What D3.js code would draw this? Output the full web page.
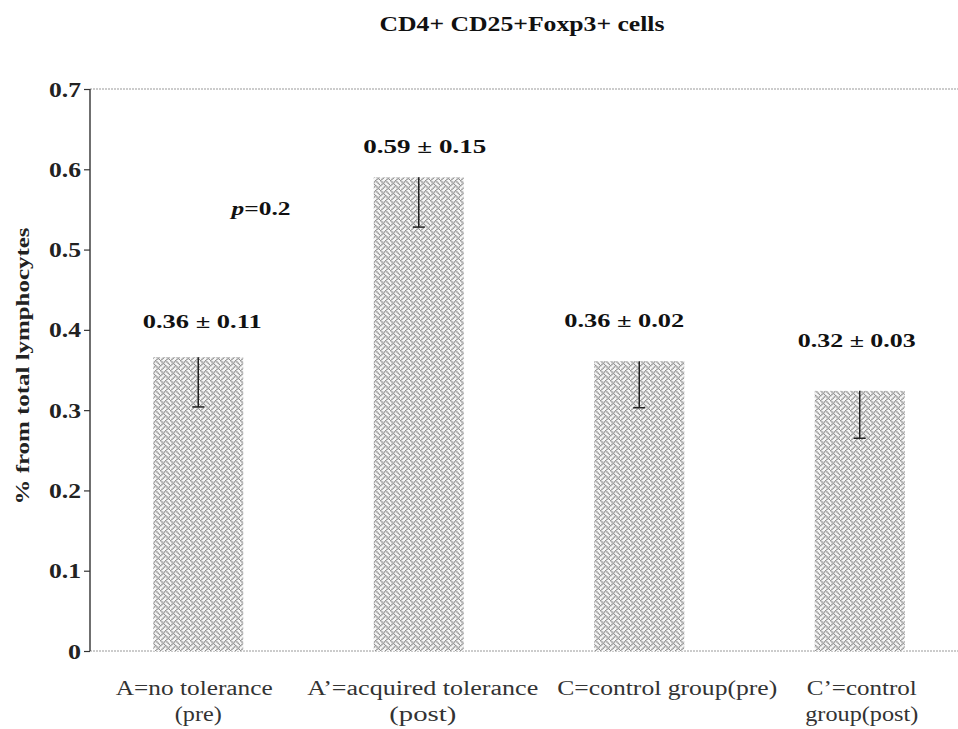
<!DOCTYPE html>
<html><head><meta charset="utf-8">
<script src="https://cdn.jsdelivr.net/npm/d3@7"></script>
<style>body{margin:0;background:#fff}svg{display:block}
text{font-family:"Liberation Serif","Times New Roman","DejaVu Serif",serif}</style>
</head><body>
<script>
const categories = ["A", "A'", "C", "C'"];
const labelLines = [["A=no tolerance","(pre)"],["A’=acquired tolerance","(post)"],["C=control group(pre)"],["C’=control","group(post)"]];
const means = [0.366, 0.59, 0.361, 0.324];
const errLow = [0.304, 0.528, 0.303, 0.265];
const annot = ["0.36 ± 0.11", "0.59 ± 0.15", "0.36 ± 0.02", "0.32 ± 0.03"];
const yTicks = [0, 0.1, 0.2, 0.3, 0.4, 0.5, 0.6, 0.7];
const yTickLabels = ["0", "0.1", "0.2", "0.3", "0.4", "0.5", "0.6", "0.7"];

const W = 958, H = 729;
const svg = d3.select("body").append("svg").attr("width", W).attr("height", H);
const defs = svg.append("defs");
// weave hatch bitmap (8x8)
const weave = ["10001000","01010100","00100010","01010001","10001000","00010101","00100010","01000101"];
const px = 1.25;
const pat = defs.append("pattern").attr("id","weave").attr("patternUnits","userSpaceOnUse")
  .attr("width",8*px).attr("height",8*px);
pat.append("rect").attr("width",8*px).attr("height",8*px).attr("fill","#f6f6f6");
weave.forEach((row,r) => row.split("").forEach((b,c) => {
  if (b === "1") pat.append("rect").attr("x",c*px).attr("y",r*px).attr("width",px*1.15).attr("height",px*1.15).attr("fill","#8f8f8f");
}));

const x = d3.scaleBand().domain(categories).range([88, 970]).paddingInner(0.592).paddingOuter(0.296);
const y = d3.scaleLinear().domain([0, 0.7]).range([651, 89]);

function fitText(sel, len) { sel.attr("textLength", len).attr("lengthAdjust","spacingAndGlyphs"); return sel; }

// title
fitText(svg.append("text").attr("x", 522).attr("y", 31).attr("text-anchor","middle")
  .attr("font-weight","bold").attr("font-size",20).attr("fill","#111").text("CD4+ CD25+Foxp3+ cells"), 285);

// top and bottom dotted lines
[0.7, 0].forEach(v => {
  svg.append("line").attr("x1", 90).attr("x2", W).attr("y1", y(v)).attr("y2", y(v))
    .attr("stroke","#999").attr("stroke-width",1.2).attr("stroke-dasharray","2,1");
});

// bars
svg.selectAll("rect.bar").data(categories).enter().append("rect").attr("class","bar")
  .attr("x", d => x(d)).attr("width", x.bandwidth())
  .attr("y", (d,i) => y(means[i])).attr("height", (d,i) => y(0) - y(means[i]))
  .attr("fill","url(#weave)");

// error bars
categories.forEach((c,i) => {
  const cx = x(c) + x.bandwidth()/2;
  svg.append("line").attr("x1",cx).attr("x2",cx).attr("y1",y(means[i])).attr("y2",y(errLow[i]))
    .attr("stroke","#222").attr("stroke-width",1.5);
  svg.append("line").attr("x1",cx-6).attr("x2",cx+6).attr("y1",y(errLow[i])).attr("y2",y(errLow[i]))
    .attr("stroke","#222").attr("stroke-width",1.5);
});

// y axis
const yAxis = d3.axisLeft(y).tickValues(yTicks).tickFormat((d,i) => yTickLabels[i]).tickSize(6).tickPadding(3);
const ga = svg.append("g").attr("transform","translate(90,0)").call(yAxis);
ga.attr("font-family", null);
ga.select(".domain").attr("stroke","#333").attr("stroke-width",1.4).attr("d","M0,"+y(0.7)+"V"+y(0));
ga.selectAll(".tick line").attr("stroke","#333").attr("stroke-width",1.2);
ga.selectAll(".tick text").attr("font-weight","bold").attr("font-size",20).attr("fill","#222")
  .attr("dy","0.35em").each(function(d,i){ fitText(d3.select(this), yTickLabels[i].length > 1 ? 32 : 13); });

// y label
fitText(svg.append("text").attr("transform","translate(29,366) rotate(-90)").attr("text-anchor","middle")
  .attr("font-weight","bold").attr("font-size",19).attr("fill","#222")
  .text("% from total lymphocytes"), 277);

// annotations
const annOff = [[4,-29],[6,-24],[-15,-34],[-3,-44]];
const annLen = [119, 123, 120, 118];
categories.forEach((c,i) => {
  const cx = x(c) + x.bandwidth()/2;
  fitText(svg.append("text").attr("x", cx + annOff[i][0]).attr("y", y(means[i]) + annOff[i][1]).attr("text-anchor","middle")
    .attr("font-weight","bold").attr("font-size",19).attr("fill","#111").text(annot[i]), annLen[i]);
});

// p value
const pt = svg.append("text").attr("x", 261).attr("y", 215).attr("text-anchor","middle")
  .attr("font-weight","bold").attr("font-size",19).attr("fill","#111");
pt.append("tspan").attr("font-style","italic").text("p");
pt.append("tspan").text("=0.2");
fitText(pt, 59);

// x labels
const xOff = [-4, 4, 28, 2];
const xLen = [[157, 47],[231, 67],[220],[110, 113]];
categories.forEach((c,i) => {
  const cx = x(c) + x.bandwidth()/2 + xOff[i];
  labelLines[i].forEach((l,j) => {
    fitText(svg.append("text").attr("x", cx + (i===0 && j===1 ? 4 : 0) + (i===1 && j===1 ? 0 : 0)).attr("y", 695 + j*26).attr("text-anchor","middle")
      .attr("font-size",20).attr("fill","#333").text(l), xLen[i][j]);
  });
});
</script>
</body></html>
